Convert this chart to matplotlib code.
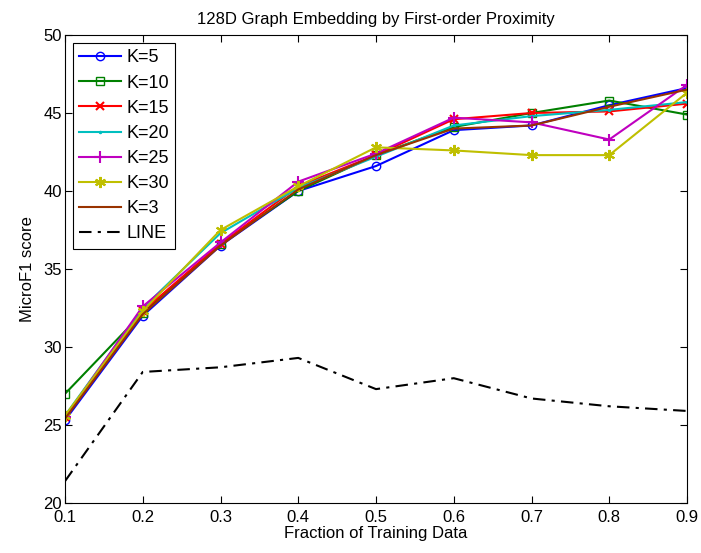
import numpy as np
import matplotlib
matplotlib.use("Agg")
import matplotlib.pyplot as plt

plt.rcParams["font.family"] = ["Liberation Sans", "DejaVu Sans"]

fraction = [0.1, 0.2, 0.3, 0.4, 0.5, 0.6, 0.7, 0.8, 0.9]

k5 = [25.3, 32.0, 36.5, 40.0, 41.6, 43.9, 44.2, 45.5, 46.6]
k10 = [27.0, 32.2, 36.6, 40.0, 42.3, 44.1, 45.0, 45.8, 44.9]
k15 = [25.5, 32.3, 36.6, 40.3, 42.3, 44.6, 45.0, 45.1, 45.6]
k20 = [25.6, 32.5, 37.3, 40.2, 42.2, 44.2, 44.8, 45.2, 45.7]
k25 = [25.5, 32.6, 36.7, 40.6, 42.4, 44.7, 44.4, 43.3, 46.8]
k30 = [25.6, 32.3, 37.5, 40.3, 42.8, 42.6, 42.3, 42.3, 46.3]
k3 = [25.4, 32.1, 36.5, 40.1, 42.3, 44.0, 44.2, 45.4, 46.5]
line = [21.4, 28.4, 28.7, 29.3, 27.3, 28.0, 26.7, 26.2, 25.9]

fig = plt.figure(figsize=(7.01, 5.53), dpi=100)
ax = fig.add_axes([65 / 701, 1 - 503 / 553, 622 / 701, 468 / 553])

ax.plot(fraction, k5, color=(0, 0, 1), marker="o", markersize=6,
        markerfacecolor="none", lw=1.5, label="K=5")
ax.plot(fraction, k10, color=(0, 0.5, 0), marker="s", markersize=6,
        markerfacecolor="none", lw=1.5, label="K=10")
ax.plot(fraction, k15, color=(1, 0, 0), marker="x", markersize=6,
        mew=1.5, lw=1.5, label="K=15")
ax.plot(fraction, k20, color=(0, 0.75, 0.75), marker=".", markersize=3,
        lw=1.5, label="K=20")
ax.plot(fraction, k25, color=(0.75, 0, 0.75), marker="+", markersize=9,
        mew=1.5, lw=1.5, label="K=25")
ax.plot(fraction, k30, color=(0.75, 0.75, 0), marker=(6, 2, 0), markersize=8,
        mew=1.5, lw=1.5, label="K=30")
ax.plot(fraction, k3, color=(0.6, 0.2, 0), lw=1.5, label="K=3")
ax.plot(fraction, line, color="black", linestyle=(0, (6, 3, 1.5, 3)),
        lw=1.5, label="LINE")

ax.set_xlim(0.1, 0.9)
ax.set_ylim(20, 50)
ax.set_xticks(fraction)
ax.set_xticklabels([str(f) for f in fraction])
ax.set_yticks([20, 25, 30, 35, 40, 45, 50])
ax.tick_params(direction="in", labelsize=12, top=True, right=True, length=5)
ax.tick_params(axis="y", pad=2)
ax.tick_params(axis="x", pad=5)

ax.set_title("128D Graph Embedding by First-order Proximity", fontsize=12,
             pad=8)
ax.set_xlabel("Fraction of Training Data", fontsize=12, labelpad=1)
ax.set_ylabel("MicroF1 score", fontsize=12, labelpad=6)

leg = ax.legend(loc="upper left", fontsize=13, fancybox=False,
                edgecolor="black", framealpha=1, borderaxespad=0.45,
                handlelength=2.3, labelspacing=0.45, borderpad=0.35,
                handletextpad=0.3)
leg.get_frame().set_linewidth(0.8)

fig.savefig("out.png", dpi=100)
